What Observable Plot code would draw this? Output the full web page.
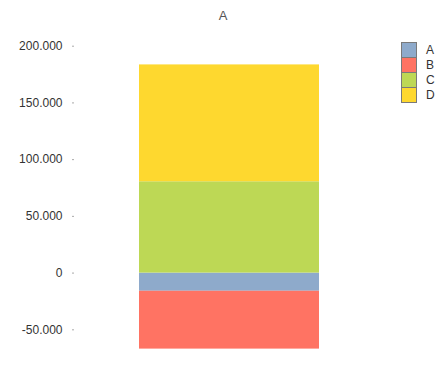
<!DOCTYPE html>
<html>
<head>
<meta charset="utf-8">
<script src="https://cdn.jsdelivr.net/npm/d3@7"></script>
<script src="https://cdn.jsdelivr.net/npm/@observablehq/plot@0.6"></script>
<style>
  html, body { margin: 0; padding: 0; background: #fff; }
  #wrap { position: relative; width: 446px; height: 387px; font-family: "Liberation Sans", Arial, sans-serif; color: #333; }
  #title { position: absolute; left: 0; width: 446px; top: 8px; text-align: center; font-size: 13px; color: #555; }
  #legend { position: absolute; left: 401px; top: 42px; }
  .item { display: flex; align-items: center; height: 15px; font-size: 12px; color: #333; }
  .sw { width: 14px; height: 14px; border: 1px solid #7a7a7a; border-bottom-width: 0; box-sizing: content-box; margin-right: 9px; }
  .item:last-child .sw { border-bottom-width: 1px; height: 14px; }
</style>
</head>
<body>
<div id="wrap">
  <div id="chart"></div>
  <div id="title">A</div>
  <div id="legend"></div>
</div>
<script>
const category = "A";
const series = ["A", "B", "C", "D"];
const values = [-16000, -51000, 80500, 103000];
const colors = ["#8EAACB", "#FF7363", "#BDD855", "#FED82F"];
const yTicks = [-50000, 0, 50000, 100000, 150000, 200000];

const data = series.map((s, i) => ({cat: category, series: s, value: values[i]}));

const loc = d3.formatLocale({decimal: ",", thousands: ".", grouping: [3], currency: ["", ""], minus: "-"});
const fmt = loc.format(",");

const chart = Plot.plot({
  width: 446,
  height: 387,
  marginTop: 23,
  marginBottom: 23.65,
  marginLeft: 74,
  marginRight: 62,
  style: {fontFamily: "Liberation Sans, Arial, sans-serif", fontSize: "12px", color: "#333", background: "#fff"},
  x: {domain: [category], padding: 0.2653, axis: null},
  y: {domain: [-80000, 220000], ticks: yTicks, tickFormat: fmt, tickSize: 2, tickPadding: 10, label: null},
  color: {domain: series, range: colors},
  marks: [
    Plot.barY(data, {x: "cat", y: "value", fill: "series", order: series}),
    Plot.axisY({ticks: yTicks, tickFormat: fmt, tickSize: 2, tickPadding: 10, label: null, stroke: "#aaa", fontSize: 12})
  ]
});
document.getElementById("chart").appendChild(chart);

const legend = document.getElementById("legend");
series.forEach((s, i) => {
  const item = document.createElement("div");
  item.className = "item";
  const sw = document.createElement("div");
  sw.className = "sw";
  sw.style.background = colors[i];
  const lab = document.createElement("span");
  lab.textContent = s;
  item.appendChild(sw);
  item.appendChild(lab);
  legend.appendChild(item);
});
</script>
</body>
</html>
